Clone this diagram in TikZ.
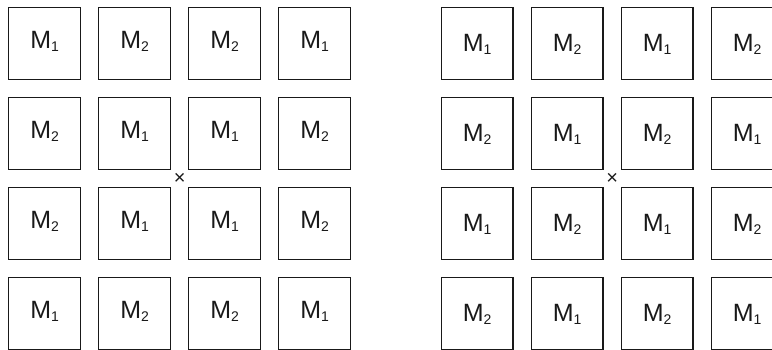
\documentclass[tikz,border=0pt]{standalone}
\usepackage{fontspec}
\setmainfont{Liberation Sans}
\usetikzlibrary{calc}
\newcommand\Msub[1]{M\raisebox{-3pt}{\fontsize{14}{14}\selectfont #1}}
\tikzset{
  cell/.style={draw=black!90, line width=1.3pt, minimum size=71.7pt, inner sep=0pt,
    font=\fontsize{25}{25}\selectfont, text=black!90},
  celll/.style={cell, text height=9.4pt, text depth=0pt},
  cellr/.style={cell, text height=16pt, text depth=0pt},
  crossmark/.style={inner sep=0pt, font=\fontsize{20}{20}\selectfont, text=black!90}
}
\begin{document}
\begin{tikzpicture}[x=1pt,y=-1pt]
\useasboundingbox (0,0) rectangle (772,350);
\clip (0,0) rectangle (772,350);
% left grid
\foreach \row/\labs in {1/{1,2,2,1},2/{2,1,1,2},3/{2,1,1,2},4/{1,2,2,1}}{
  \foreach \lab [count=\col] in \labs {
    \node[celll] (A-\row-\col) at ({44.65+90*(\col-1)},{43.65+90*(\row-1)}) {\Msub{\lab}};
  }
}
% right grid
\foreach \row/\labs in {1/{1,2,1,2},2/{2,1,2,1},3/{1,2,1,2},4/{2,1,2,1}}{
  \foreach \lab [count=\col] in \labs {
    \node[cellr] (B-\row-\col) at ({477.2+90*(\col-1)},{43.65+90*(\row-1)}) {\Msub{\lab}};
  }
}
\node[crossmark] (xA) at ($(A-2-2.south east)!0.5!(A-3-3.north west)$) {×};
\node[crossmark] (xB) at ($(B-2-2.south east)!0.5!(B-3-3.north west)$) {×};
\end{tikzpicture}
\end{document}
